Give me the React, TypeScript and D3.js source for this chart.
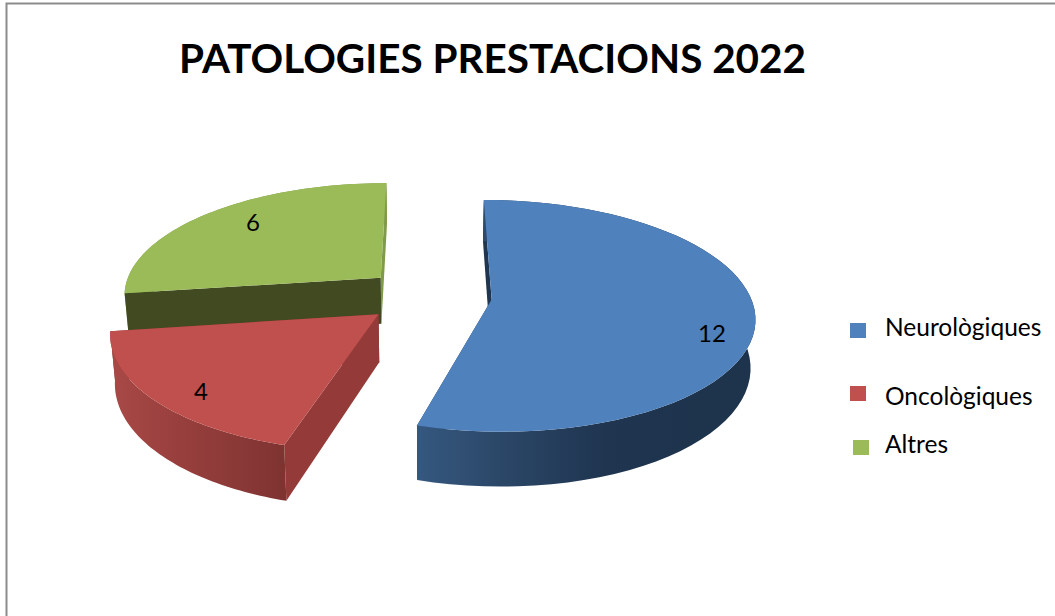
import React from "react";
import * as d3 from "d3";

const title = "PATOLOGIES PRESTACIONS 2022";
const categories = ["Neurològiques", "Oncològiques", "Altres"];
const values = [12, 4, 6];
const topColors = ["#4f81bd", "#c0504d", "#9bbb59"];
const sideStops = [
  ["#35587f", "#2a4565", "#1f3550", "#1e334c"],
  ["#a84946", "#9a403e", "#8c3a38", "#7e3331"],
  ["#7f9b48", "#7f9b48", "#7f9b48", "#7f9b48"],
];
const startWallColors = ["#1f3550", "#943a38", "#414a21"];
const endWallColors = ["#2a4565", "#7e3331", "#7f9b48"];
const labelXY = [[712, 333], [201, 391], [253, 222]];
const legendMarkerXY = [[850, 323], [850, 386], [853, 440]];
const legendBaselineY = [336, 405, 453];

const CX = 428, CY = 295.5, R = 258.5, EXPLODE = 64, TILT = 0.435, PERSP = 0.14, DEPTH = 47, BOTTOM_SCALE = 0.985;

type Pt = [number, number];

const pie = d3.pie<number>().sort(null).startAngle(0).endAngle(2 * Math.PI);
const arcs = pie(values);
const path = d3.line<Pt>().x((d) => d[0]).y((d) => d[1]);

function project(ax: number, az: number, r: number, th: number, bottom: boolean): Pt {
  const X = ax + r * Math.sin(th);
  const Z = az + r * Math.cos(th);
  const f = 1 / (1 + (PERSP * Z) / R);
  const k = bottom ? BOTTOM_SCALE : 1;
  return [CX + X * f * k, CY + (-TILT * Z + (bottom ? DEPTH : 0)) * f];
}

function sliceShapes(a: d3.PieArcDatum<number>) {
  const mid = (a.startAngle + a.endAngle) / 2;
  const ax = EXPLODE * Math.sin(mid);
  const az = EXPLODE * Math.cos(mid);
  const thetas = d3.range(0, 61).map((i) => a.startAngle + ((a.endAngle - a.startAngle) * i) / 60);
  const topRim = thetas.map((t) => project(ax, az, R, t, false));
  const botRim = thetas.map((t) => project(ax, az, R, t, true));
  const apexT = project(ax, az, 0, 0, false);
  const apexB = project(ax, az, 0, 0, true);
  return {
    top: path([apexT, ...topRim])! + "Z",
    side: path([...topRim, ...botRim.slice().reverse()])! + "Z",
    startWall: path([apexT, topRim[0], botRim[0], apexB])! + "Z",
    endWall: path([apexT, topRim[60], botRim[60], apexB])! + "Z",
  };
}

export default function App() {
  const shapes = arcs.map(sliceShapes);
  const order = [2, 1, 0];
  return (
    <svg width={1055} height={616} style={{ position: "absolute", left: 0, top: 0, background: "#fff" }}
      fontFamily="Lato, Carlito, sans-serif">
      <defs>
        <linearGradient id="g0" gradientUnits="userSpaceOnUse" x1={417} x2={700} y1={0} y2={0}>
          {sideStops[0].map((c, i) => <stop key={i} offset={i / 3} stopColor={c} />)}
        </linearGradient>
        <linearGradient id="g1" gradientUnits="userSpaceOnUse" x1={112} x2={288} y1={0} y2={0}>
          {sideStops[1].map((c, i) => <stop key={i} offset={i / 3} stopColor={c} />)}
        </linearGradient>
        <linearGradient id="g2" gradientUnits="userSpaceOnUse" x1={120} x2={400} y1={0} y2={0}>
          {sideStops[2].map((c, i) => <stop key={i} offset={i / 3} stopColor={c} />)}
        </linearGradient>
      </defs>
      <path d="M6.5,616V3.5H1055" fill="none" stroke="#8c8c8c" strokeWidth={2} />
      <text x={179} y={73} fontSize={41} fontWeight={700} fill="#000" textLength={627} lengthAdjust="spacingAndGlyphs">
        {title}
      </text>
      {order.map((i) => (
        <g key={i}>
          {i === 2 && <path d={shapes[i].side} fill={`url(#g${i})`} />}
          <path d={shapes[i].endWall} fill={endWallColors[i]} />
          <path d={shapes[i].startWall} fill={startWallColors[i]} />
          {i !== 2 && <path d={shapes[i].side} fill={`url(#g${i})`} />}
          <path d={shapes[i].top} fill={topColors[i]} />
        </g>
      ))}
      {values.map((v, i) => (
        <text key={i} x={labelXY[i][0]} y={labelXY[i][1]} dy="0.36em" fontSize={24} textAnchor="middle" fill="#000">
          {v}
        </text>
      ))}
      {categories.map((c, i) => (
        <g key={c}>
          <rect x={legendMarkerXY[i][0]} y={legendMarkerXY[i][1]} width={16} height={15} fill={topColors[i]} />
          <text x={885} y={legendBaselineY[i]} fontSize={24.5} fill="#000">{c}</text>
        </g>
      ))}
    </svg>
  );
}
